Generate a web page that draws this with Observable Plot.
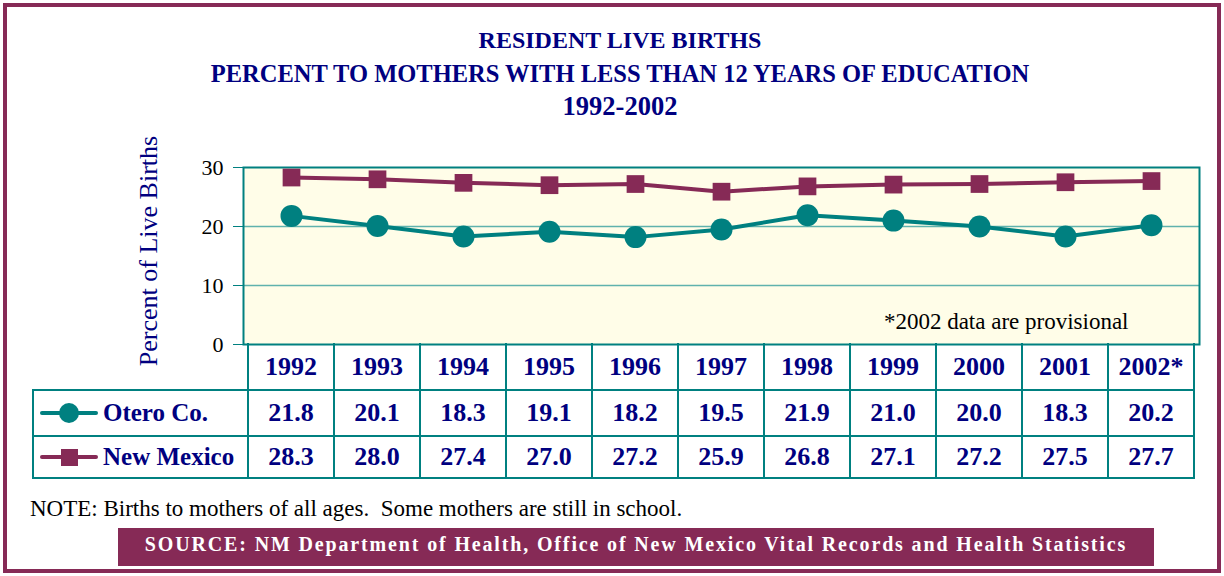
<!DOCTYPE html>
<html><head><meta charset="utf-8">
<script src="https://cdn.jsdelivr.net/npm/d3@7"></script>
<script src="https://cdn.jsdelivr.net/npm/@observablehq/plot@0.6"></script>
<style>
body{margin:0;background:#fff;}
#stage{position:relative;width:1224px;height:576px;overflow:hidden;font-family:"Liberation Serif","Times New Roman",serif;background:#fff}
.abs{position:absolute}
#border{left:3px;top:3px;width:1218px;height:570px;border:4px solid #862a56;box-sizing:border-box}
#title{left:0;top:24px;width:1240px;text-align:center;font-weight:bold;line-height:33px;color:#000080}
#ylabel{left:149px;top:251px;transform:translate(-50%,-50%) rotate(-90deg);white-space:nowrap;font-size:26px;color:#000080;line-height:26px}
#plot{left:0;top:150px}
#plot svg [aria-label="y-axis tick"]{stroke:#008080}
.hl{background:#008080;height:2px}
.vl{background:#008080;width:2px}
.cell{display:flex;align-items:center;justify-content:center;font-weight:bold;font-size:26px;line-height:26px;color:#000080;white-space:nowrap}
.leg{display:flex;align-items:center;font-weight:bold;font-size:25px;line-height:26px;color:#000080;white-space:nowrap}
.sw{position:relative;width:58px;height:22px;margin-left:7px;margin-right:5px}
.sw .ln{position:absolute;left:0;right:0;top:9px;height:4px;border-radius:2px}
.sw .mk{position:absolute}
#note{left:30px;top:497px;font-size:23px;line-height:23px;color:#000;white-space:pre}
#source{left:118px;top:528px;width:1036px;height:38px;line-height:32px;background:#862a56;color:#fff;font-weight:bold;font-size:20px;letter-spacing:1.85px;text-align:center;white-space:nowrap}
</style></head>
<body>
<div id="stage">
  <div id="border" class="abs"></div>
  <div id="title" class="abs"></div>
  <div id="ylabel" class="abs"></div>
  <div id="plot" class="abs"></div>
  <div id="note" class="abs"></div>
  <div id="source" class="abs"></div>
</div>
<script>
// ---- data ----
const titleLines = ["RESIDENT LIVE BIRTHS", "PERCENT TO MOTHERS WITH LESS THAN 12 YEARS OF EDUCATION", "1992-2002"];
const titleSizes = [24, 24.5, 26.5];
const yLabel = "Percent of Live Births";
const years = ["1992","1993","1994","1995","1996","1997","1998","1999","2000","2001","2002"];
const yearLabels = ["1992","1993","1994","1995","1996","1997","1998","1999","2000","2001","2002*"];
const seriesNames = ["Otero Co.", "New Mexico"];
const otero = [21.8, 20.1, 18.3, 19.1, 18.2, 19.5, 21.9, 21.0, 20.0, 18.3, 20.2];
const newMexico = [28.3, 28.0, 27.4, 27.0, 27.2, 25.9, 26.8, 27.1, 27.2, 27.5, 27.7];
const yTicks = [0, 10, 20, 30];
const provisionalNote = "*2002 data are provisional";
const noteText = "NOTE: Births to mothers of all ages.  Some mothers are still in school.";
const sourceText = "SOURCE: NM Department of Health, Office of New Mexico Vital Records and Health Statistics";

const TEAL = "#008080", MAROON = "#862a56", NAVY = "#000080";

const oteroData = years.map((y, i) => ({year: y, value: otero[i]}));
const nmData = years.map((y, i) => ({year: y, value: newMexico[i]}));

document.getElementById("title").innerHTML = titleLines.map((t, i) => `<div style="font-size:${titleSizes[i]}px">${t}</div>`).join("");
document.getElementById("ylabel").textContent = yLabel;
document.getElementById("note").textContent = noteText;
document.getElementById("source").textContent = sourceText;

const PLOT_TOP = 150;
const chart = Plot.plot({
  width: 1224,
  height: 196,
  marginLeft: 243,
  marginRight: 25,
  marginTop: 17,
  marginBottom: 2,
  style: {background: "transparent", overflow: "visible", fontFamily: "'Liberation Serif','Times New Roman',serif"},
  x: {type: "point", domain: years, padding: 0.5, align: 0.5, axis: null},
  y: {domain: [0, 30]},
  marks: [
    Plot.frame({fill: "#fffde8", stroke: null}),
    Plot.gridY({ticks: [10, 20], stroke: "#5fb2ad", strokeOpacity: 1, strokeWidth: 1.5}),
    Plot.frame({stroke: TEAL, strokeWidth: 2}),
    Plot.axisY({ticks: yTicks, tickSize: 10, tickPadding: 10, fontSize: 22, color: "#000", label: null}),
    Plot.line(nmData, {x: "year", y: "value", stroke: MAROON, strokeWidth: 4}),
    Plot.dot(nmData, {x: "year", y: "value", symbol: "square", r: 10, fill: MAROON, stroke: null}),
    Plot.line(oteroData, {x: "year", y: "value", stroke: TEAL, strokeWidth: 4}),
    Plot.dot(oteroData, {x: "year", y: "value", r: 11, fill: TEAL, stroke: null}),
    Plot.text([provisionalNote], {frameAnchor: "bottom-right", lineAnchor: "middle", textAnchor: "end", dx: -71, dy: -23, fontSize: 23, fill: "#000"})
  ]
});
document.getElementById("plot").appendChild(chart);

// ---- data table below the plot (aligned to the x scale) ----
const xs = chart.scale("x");
const step = xs.step ?? ((xs.range[1] - xs.range[0]) / years.length);
const stage = document.getElementById("stage");
const frameLeft = xs.apply(years[0]) - step / 2;
const frameRight = xs.apply(years[years.length - 1]) + step / 2;
const yScale = chart.scale("y");
const yZero = PLOT_TOP + yScale.apply(0);
const rowTops = [yZero, yZero + 46, yZero + 92, yZero + 134];
const tableLeft = 33;

function add(cls, css, html) {
  const d = document.createElement("div");
  d.className = "abs " + cls;
  Object.assign(d.style, css);
  if (html != null) d.innerHTML = html;
  stage.appendChild(d);
  return d;
}
// horizontal lines
for (const r of [1, 2, 3]) {
  add("hl", {left: (tableLeft - 1) + "px", top: (rowTops[r] - 1) + "px", width: (frameRight - tableLeft + 2) + "px"});
}
// vertical lines
add("vl", {left: (tableLeft - 1) + "px", top: (rowTops[1] - 1) + "px", height: (rowTops[3] - rowTops[1] + 2) + "px"});
for (let k = 0; k <= years.length; k++) {
  const x = frameLeft + k * step;
  add("vl", {left: (x - 1) + "px", top: (rowTops[0] - 1) + "px", height: (rowTops[3] - rowTops[0] + 2) + "px"});
}
// year row and values
years.forEach((yr, i) => {
  const left = xs.apply(yr) - step / 2;
  add("cell", {left: left + "px", width: step + "px", top: rowTops[0] + "px", height: (rowTops[1] - rowTops[0]) + "px"}, yearLabels[i]);
  add("cell", {left: left + "px", width: step + "px", top: rowTops[1] + "px", height: (rowTops[2] - rowTops[1]) + "px"}, otero[i].toFixed(1));
  add("cell", {left: left + "px", width: step + "px", top: rowTops[2] + "px", height: (rowTops[3] - rowTops[2]) + "px"}, newMexico[i].toFixed(1));
});
// legend cells
const swCircle = `<span class="sw"><span class="ln" style="background:${TEAL}"></span><span class="mk" style="left:19px;top:1px;width:20px;height:20px;border-radius:50%;background:${TEAL}"></span></span>`;
const swSquare = `<span class="sw"><span class="ln" style="background:${MAROON}"></span><span class="mk" style="left:20.5px;top:2.5px;width:17px;height:17px;background:${MAROON}"></span></span>`;
add("leg", {left: tableLeft + "px", width: (frameLeft - tableLeft) + "px", top: rowTops[1] + "px", height: (rowTops[2] - rowTops[1]) + "px"}, swCircle + `<span>${seriesNames[0]}</span>`);
add("leg", {left: tableLeft + "px", width: (frameLeft - tableLeft) + "px", top: rowTops[2] + "px", height: (rowTops[3] - rowTops[2]) + "px"}, swSquare + `<span>${seriesNames[1]}</span>`);
</script>
</body></html>
